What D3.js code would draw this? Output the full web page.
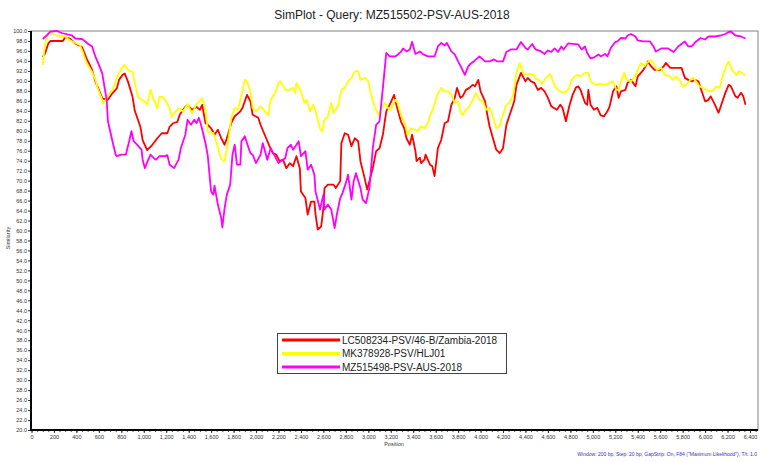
<!doctype html>
<html>
<head>
<meta charset="utf-8">
<style>
body { margin: 0; background: #fff; }
svg { font-family: "Liberation Sans", Arial, sans-serif; }
</style>
<script src="https://d3js.org/d3.v7.min.js"></script>
</head>
<body>
<svg width="770" height="462"></svg>
<script>
// series names
var seriesNames = ["LC508234-PSV/46-B/Zambia-2018", "MK378928-PSV/HLJ01", "MZ515498-PSV-AUS-2018"];
var seriesColors = ["#ff0000", "#ffff00", "#ff00ff"];

// LC508234 (red)
var redPos = [100,120,150,170,280,300,340,390,450,490,540,570,590,630,680,720,760,780,810,830,860,900,920,970,990,1030,1070,1120,1160,1210,1230,1260,1300,1320,1370,1390,1430,1470,1500,1520,1550,1570,1600,1630,1660,1690,1720,1750,1780,1810,1860,1880,1920,1950,1970,2020,2040,2090,2120,2150,2180,2210,2240,2270,2300,2330,2360,2390,2400,2440,2460,2490,2520,2530,2550,2580,2600,2610,2640,2690,2710,2750,2760,2790,2820,2850,2880,2910,2930,2960,2990,3010,3040,3070,3100,3130,3160,3190,3230,3250,3290,3320,3340,3370,3390,3420,3430,3460,3470,3500,3510,3550,3570,3590,3620,3650,3680,3710,3740,3770,3790,3820,3840,3870,3900,3930,3950,3980,4000,4040,4060,4080,4110,4140,4170,4200,4230,4260,4300,4320,4360,4400,4420,4450,4480,4510,4540,4570,4600,4630,4650,4680,4710,4730,4760,4790,4820,4850,4870,4890,4930,4950,4960,4980,5010,5040,5070,5100,5130,5150,5180,5210,5230,5250,5290,5310,5340,5380,5400,5440,5470,5490,5520,5550,5600,5630,5650,5690,5730,5790,5820,5850,5880,5910,5940,5960,6000,6030,6050,6080,6120,6140,6180,6210,6230,6270,6290,6320,6340,6360];
var redSim = [94.8,95.5,97.5,98.0,98.0,98.8,98.5,97.5,96.8,94.5,92.2,89.8,88.8,86.5,86.2,87.5,88.5,90.2,91.2,91.5,89.8,86.8,84.0,80.8,78.1,76.1,77.0,78.5,79.5,79.5,80.8,81.5,81.8,83.2,84.8,85.2,84.2,84.8,84.2,85.2,81.5,81.2,80.5,79.2,80.2,78.5,77.2,79.2,81.6,82.9,83.9,84.6,87.2,85.9,83.2,82.6,81.2,78.5,76.9,75.5,75.2,73.9,74.2,72.5,73.5,72.9,74.9,72.5,67.8,66.5,63.2,65.8,65.8,63.2,60.2,60.8,64.5,68.5,69.2,69.2,68.5,69.9,77.5,79.5,79.2,76.9,78.5,77.9,73.9,71.2,68.2,69.9,72.5,75.9,76.5,79.2,83.9,85.2,87.2,85.2,81.9,80.5,78.5,77.2,79.2,75.9,73.9,74.6,73.5,74.2,75.2,73.2,72.9,70.9,76.5,78.2,81.5,81.9,85.2,86.6,88.6,86.6,86.9,88.2,88.6,89.2,88.9,90.2,87.9,85.9,83.2,80.9,78.5,76.2,75.5,76.5,81.2,83.2,85.9,89.2,91.6,89.9,90.6,89.9,89.6,88.2,88.6,87.9,86.6,84.9,84.6,84.2,85.2,84.6,81.9,84.9,87.2,88.7,88.9,88.2,85.6,85.2,88.2,85.2,84.2,84.6,83.1,82.9,83.9,84.9,87.9,88.9,86.6,87.9,88.2,89.6,90.2,88.9,90.9,91.9,92.9,93.9,92.9,92.2,92.2,92.9,93.6,92.6,92.6,92.6,90.6,90.2,89.9,90.2,89.9,88.6,85.9,86.2,86.9,85.6,83.6,84.9,87.6,89.2,88.9,86.9,86.6,87.6,86.9,85.2];

// MK378928 (yellow)
var yellowPos = [100,120,150,180,210,240,300,340,390,430,460,490,540,570,590,630,640,670,720,740,770,810,830,860,900,920,950,980,1010,1030,1060,1080,1120,1140,1170,1210,1230,1250,1280,1320,1350,1390,1430,1470,1520,1550,1570,1620,1650,1690,1720,1750,1780,1810,1840,1870,1900,1920,1950,1970,2000,2040,2080,2110,2130,2170,2200,2220,2260,2300,2330,2350,2360,2400,2430,2450,2480,2510,2530,2570,2590,2610,2640,2670,2690,2730,2760,2790,2820,2850,2880,2910,2930,2970,3000,3020,3060,3090,3110,3150,3180,3200,3240,3260,3290,3330,3350,3380,3420,3440,3470,3500,3530,3560,3580,3610,3650,3680,3710,3740,3770,3800,3820,3840,3870,3900,3930,3960,3990,4020,4050,4080,4110,4140,4170,4200,4230,4260,4290,4320,4350,4380,4400,4440,4470,4490,4530,4550,4580,4620,4640,4670,4710,4730,4760,4790,4810,4840,4870,4890,4930,4960,4980,5020,5060,5110,5150,5180,5210,5230,5250,5280,5300,5340,5370,5400,5430,5460,5480,5520,5550,5570,5610,5640,5690,5710,5740,5780,5800,5830,5870,5890,5920,5950,5980,6010,6040,6070,6100,6130,6160,6190,6210,6240,6280,6300,6330,6360];
var yellowSim = [93.2,97.4,99.5,99.6,99.2,99.0,98.9,98.2,97.6,97.2,95.6,93.6,91.8,90.2,88.5,86.2,85.4,86.6,88.2,89.2,91.2,92.8,93.2,92.2,91.8,89.5,86.8,86.2,85.8,85.2,88.2,86.8,84.5,86.8,86.8,85.4,84.5,82.8,83.8,84.5,83.8,85.4,83.5,85.4,86.5,84.2,79.8,79.5,77.5,74.3,73.9,77.5,82.6,84.6,84.2,87.2,90.2,89.9,87.9,84.6,83.9,84.9,83.9,83.1,86.2,87.6,89.6,89.9,88.2,88.2,88.6,87.6,89.6,87.9,85.6,86.2,83.9,85.2,83.9,80.5,79.9,82.2,82.9,85.6,83.6,84.9,88.2,88.6,89.9,90.6,91.9,92.0,90.2,90.6,89.9,87.6,84.6,83.2,84.2,85.6,84.4,84.2,86.2,85.7,83.2,81.2,79.2,80.5,80.2,79.9,80.9,80.5,81.5,83.6,84.6,86.9,88.6,87.9,87.9,87.2,85.6,85.9,83.9,83.1,84.2,84.9,86.2,87.6,86.2,85.9,84.2,84.6,82.9,80.5,80.9,83.2,85.2,85.6,87.2,91.6,93.6,91.6,91.2,91.4,91.2,90.6,89.9,89.4,90.6,91.4,90.2,88.6,87.9,87.6,87.8,88.6,90.2,90.9,91.2,90.9,91.6,91.6,89.9,89.2,89.4,89.2,89.6,89.9,88.2,88.2,89.9,91.6,90.2,89.9,90.6,92.2,93.6,92.9,93.6,94.2,93.2,92.2,92.6,91.2,90.9,90.2,90.9,89.9,88.9,89.2,90.2,90.7,89.9,88.9,88.6,88.2,87.9,88.0,88.9,88.6,91.2,93.2,93.9,92.2,91.2,91.9,91.6,91.1];

// MZ515498 (magenta)
var magentaPos = [100,140,170,230,270,320,360,390,450,480,500,540,570,590,630,650,670,680,720,750,760,800,840,870,890,910,940,980,990,1010,1040,1060,1090,1110,1140,1190,1210,1230,1270,1310,1330,1370,1390,1420,1450,1470,1490,1510,1550,1570,1600,1620,1630,1660,1690,1700,1720,1740,1770,1790,1810,1830,1860,1870,1900,1920,1950,1970,2000,2040,2060,2080,2100,2130,2160,2200,2220,2260,2280,2310,2330,2360,2380,2400,2440,2460,2490,2520,2530,2570,2600,2610,2640,2670,2700,2720,2750,2770,2800,2820,2850,2870,2890,2930,2950,2980,3010,3040,3070,3100,3130,3160,3190,3240,3270,3290,3310,3340,3370,3390,3420,3460,3490,3530,3590,3620,3650,3680,3700,3740,3770,3800,3830,3860,3890,3910,3950,3990,4040,4080,4120,4150,4200,4230,4270,4320,4360,4400,4420,4460,4490,4540,4570,4600,4630,4660,4690,4720,4740,4780,4820,4870,4900,4930,4950,4980,5010,5050,5070,5110,5130,5160,5200,5220,5250,5290,5310,5340,5380,5400,5450,5510,5540,5560,5610,5670,5720,5760,5790,5820,5850,5880,5920,5960,6000,6030,6090,6140,6180,6210,6230,6270,6320,6360];
var magentaSim = [98.4,99.2,99.9,100.0,99.6,99.3,99.1,98.5,98.4,97.9,97.5,96.9,94.8,93.8,91.5,88.8,86.2,82.0,78.0,75.2,74.9,75.2,75.2,77.9,79.9,77.9,77.2,76.2,74.2,72.5,74.2,75.2,74.5,74.2,74.9,74.9,75.1,73.2,72.5,74.2,76.5,79.2,82.2,81.2,82.2,81.5,82.6,81.2,77.5,75.0,67.8,67.2,69.0,65.2,62.5,60.6,64.5,67.2,69.2,75.2,77.2,73.2,73.2,77.9,78.9,77.5,75.5,75.2,73.5,75.2,77.5,75.9,74.2,76.5,75.2,73.5,73.9,74.5,76.5,77.2,76.2,77.2,77.9,74.9,75.9,72.2,73.2,71.2,67.8,64.2,67.2,64.2,65.2,64.2,60.5,63.2,66.5,67.5,69.5,71.2,66.2,69.9,71.5,68.5,66.2,65.5,68.5,76.5,81.2,81.9,88.6,95.6,94.9,94.9,95.4,95.8,96.5,95.9,96.3,97.8,95.4,95.9,95.3,94.9,94.9,96.9,97.6,97.1,97.6,95.9,95.3,93.9,92.6,91.2,92.9,93.4,94.1,94.9,93.9,93.9,94.3,93.9,93.9,95.8,96.3,96.3,97.8,96.6,96.3,97.4,96.3,95.9,95.4,96.1,95.8,96.5,95.8,96.9,96.3,97.5,97.4,97.3,96.3,96.9,95.6,94.5,94.7,95.3,94.9,95.4,94.9,96.6,97.8,97.9,98.6,98.5,99.1,99.4,98.9,98.1,97.9,97.9,96.9,95.9,96.5,96.5,95.8,96.9,97.4,97.9,96.9,96.9,97.9,98.6,98.3,98.9,98.9,99.1,99.4,99.8,99.9,99.1,98.9,98.5];

var xTicks = d3.range(0, 6401, 200);
var xMinor = d3.range(0, 6451, 50);
var yTicks = d3.range(20, 100.01, 2);

var svg = d3.select("svg");

var x = d3.scaleLinear().domain([0, 6400]).range([31.5, 750]);
var y = d3.scaleLinear().domain([20, 100]).range([430, 31]);

// frame
svg.append("rect").attr("x", 31).attr("y", 31).attr("width", 727).attr("height", 399)
	.attr("fill", "none").attr("stroke", "#808080").attr("stroke-width", 1);

// title
svg.append("text").attr("x", 392).attr("y", 19).attr("text-anchor", "middle")
	.attr("font-size", "12px").attr("fill", "#222").text("SimPlot - Query: MZ515502-PSV-AUS-2018");

// lines
var series = [
	{pos: redPos, sim: redSim},
	{pos: yellowPos, sim: yellowSim},
	{pos: magentaPos, sim: magentaSim}
];
var line = d3.line().x(function(d) { return x(d[0]); }).y(function(d) { return y(d[1]); });
series.forEach(function(s, i) {
	svg.append("path")
		.datum(d3.zip(s.pos, s.sim))
		.attr("d", line)
		.attr("fill", "none")
		.attr("stroke", seriesColors[i])
		.attr("stroke-width", 1.8)
		.attr("stroke-linejoin", "round");
});
// draw red last so it sits like the original? (original order: magenta under red)

// x axis minor ticks
svg.append("g").attr("transform", "translate(0,430)")
	.call(d3.axisBottom(x).tickValues(xMinor).tickSize(2).tickFormat(""))
	.call(function(g) { g.select(".domain").remove(); g.selectAll("line").attr("stroke", "#555"); });
// x axis
var gx = svg.append("g").attr("transform", "translate(0,430)")
	.call(d3.axisBottom(x).tickValues(xTicks).tickFormat(d3.format(",")).tickSize(3).tickPadding(2));
gx.select(".domain").remove();
gx.selectAll("text").attr("font-size", "5.5px").attr("fill", "#333").attr("font-family", "Liberation Sans, Arial, sans-serif");
gx.selectAll("line").attr("stroke", "#333");

// y axis
var gy = svg.append("g").attr("transform", "translate(31,0)")
	.call(d3.axisLeft(y).tickValues(yTicks).tickFormat(d3.format(".1f")).tickSize(3).tickPadding(1));
gy.select(".domain").remove();
gy.selectAll("text").attr("font-size", "5.5px").attr("fill", "#333").attr("font-family", "Liberation Sans, Arial, sans-serif");
gy.selectAll("line").attr("stroke", "#333");

// heavy axis lines
svg.append("line").attr("x1", 31).attr("x2", 758).attr("y1", 430).attr("y2", 430)
	.attr("stroke", "#000").attr("stroke-width", 2);
svg.append("line").attr("x1", 31).attr("x2", 31).attr("y1", 31).attr("y2", 431)
	.attr("stroke", "#000").attr("stroke-width", 2);

// axis titles
svg.append("text").attr("x", 394).attr("y", 446).attr("text-anchor", "middle")
	.attr("font-size", "5.5px").attr("fill", "#333").text("Position");
svg.append("text").attr("transform", "translate(10,238) rotate(-90)").attr("text-anchor", "middle")
	.attr("font-size", "5.5px").attr("fill", "#333").text("Similarity");

// footer
svg.append("text").attr("x", 757).attr("y", 456).attr("text-anchor", "end")
	.attr("font-size", "5px").attr("fill", "#3333cc")
	.text("Window: 200 bp, Step: 20 bp, GapStrip: On, F84 (\"Maximum Likelihood\"), T/t: 1.0");

// legend
var lg = svg.append("g");
lg.append("rect").attr("x", 277.5).attr("y", 333.5).attr("width", 229).attr("height", 40)
	.attr("fill", "#fff").attr("stroke", "#444").attr("stroke-width", 1);
var rows = lg.selectAll("g.row").data(seriesNames).enter().append("g").attr("class", "row")
	.attr("transform", function(d, i) { return "translate(0," + (340 + i * 13.5) + ")"; });
rows.append("line").attr("x1", 282).attr("x2", 340).attr("y1", 0).attr("y2", 0)
	.attr("stroke", function(d, i) { return seriesColors[i]; }).attr("stroke-width", 3);
rows.append("text").attr("x", 342).attr("y", 3.5).attr("font-size", "10px").attr("fill", "#222")
	.text(function(d) { return d; });
</script>
</body>
</html>
